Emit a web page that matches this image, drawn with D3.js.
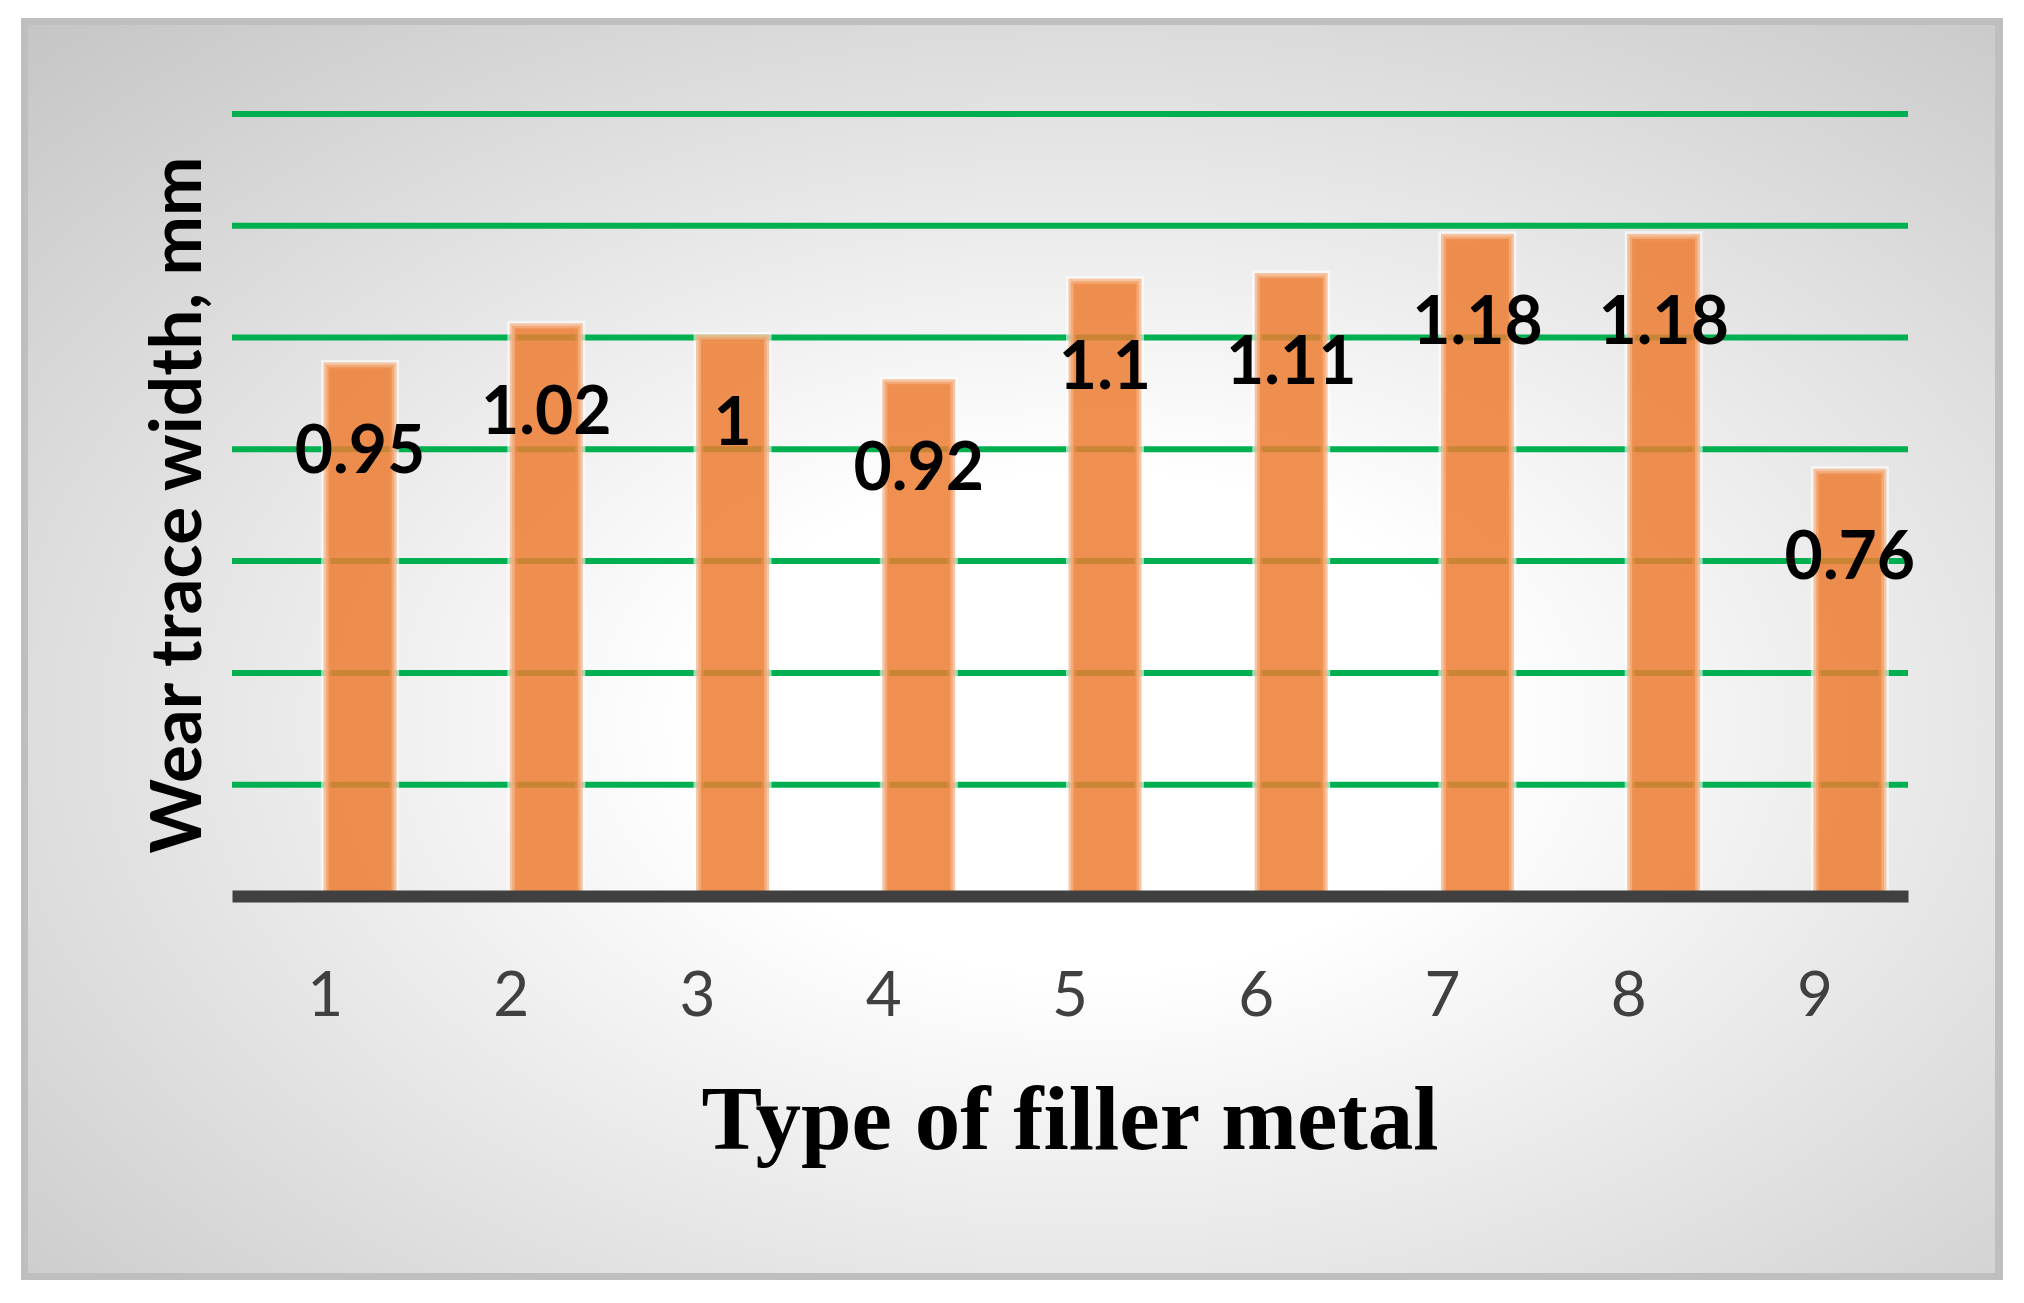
<!DOCTYPE html>
<html>
<head>
<meta charset="utf-8">
<script src="https://cdn.jsdelivr.net/npm/d3@7"></script>
<style>
  html, body { margin: 0; padding: 0; background: #ffffff; }
  svg { display: block; }
</style>
</head>
<body>
<script>
// ---- data ----
const categories = ["1", "2", "3", "4", "5", "6", "7", "8", "9"];
const wearValues = [0.95, 1.02, 1, 0.92, 1.1, 1.11, 1.18, 1.18, 0.76];
const gridTicks = [0.2, 0.4, 0.6, 0.8, 1.0, 1.2, 1.4];
const yTitle = "Wear trace width, mm";
const xTitle = "Type of filler metal";

// ---- layout ----
const W = 2024, H = 1303;
const plot = { left: 232, right: 1908, top: 113.4, bottom: 896 };

const svg = d3.select("body").append("svg").attr("width", W).attr("height", H);

const defs = svg.append("defs");
const grad = defs.append("radialGradient")
  .attr("id", "bg")
  .attr("cx", 0.54).attr("cy", 0.56).attr("r", 0.8);
grad.append("stop").attr("offset", "0").attr("stop-color", "#ffffff");
grad.append("stop").attr("offset", "0.25").attr("stop-color", "#ffffff");
grad.append("stop").attr("offset", "1").attr("stop-color", "#c3c3c3");

// frame
svg.append("rect").attr("x", 21).attr("y", 18).attr("width", 1982).attr("height", 1262).attr("fill", "#bfbfbf");
svg.append("rect").attr("x", 28).attr("y", 25).attr("width", 1967).attr("height", 1248).attr("fill", "url(#bg)");

// scales
const x = d3.scaleBand().domain(categories).range([plot.left, plot.right]).padding(0);
const y = d3.scaleLinear().domain([0, 1.4]).range([plot.bottom, plot.top]);
const barW = x.bandwidth() * 0.365;

// gridlines
const grid = svg.append("g")
  .attr("transform", `translate(${plot.left},0)`)
  .call(d3.axisLeft(y).tickValues(gridTicks).tickSize(-(plot.right - plot.left)).tickFormat(""));
grid.select(".domain").remove();
grid.selectAll(".tick line").attr("stroke", "#00B050").attr("stroke-width", 6);

// bars
const bars = svg.append("g");
const cx = d => x(d.c) + x.bandwidth() / 2 + 1;
const rows = categories.map((c, i) => ({ c, v: wearValues[i] }));
bars.selectAll("rect.glow").data(rows).enter().append("rect")
  .attr("class", "glow")
  .attr("x", d => cx(d)).attr("width", barW)
  .attr("y", d => y(d.v)).attr("height", d => y(0) - y(d.v))
  .attr("fill", "none").attr("stroke", "#ffffff").attr("stroke-opacity", 0.6).attr("stroke-width", 10);
bars.selectAll("rect.bar").data(rows).enter().append("rect")
  .attr("class", "bar")
  .attr("x", d => cx(d)).attr("width", barW)
  .attr("y", d => y(d.v)).attr("height", d => y(0) - y(d.v))
  .attr("fill", "#ED7D31").attr("fill-opacity", 0.85)
  .attr("stroke", "#F4B183").attr("stroke-opacity", 0.75).attr("stroke-width", 5);

// x axis line
const xAxis = svg.append("g")
  .attr("transform", `translate(0,${plot.bottom})`)
  .call(d3.axisBottom(x).tickSize(0).tickPadding(0));
xAxis.select(".domain").attr("stroke", "#404040").attr("stroke-width", 12);
xAxis.selectAll(".tick text")
  .attr("y", 120).attr("dy", null)
  .attr("font-family", "Lato, 'Noto Sans', sans-serif")
  .attr("font-size", 62).attr("fill", "#404040");

// data labels
svg.append("g").selectAll("text").data(rows).enter().append("text")
  .attr("x", d => cx(d) + barW / 2)
  .attr("y", d => y(d.v) + 108)
  .attr("text-anchor", "middle")
  .attr("font-family", "Lato, 'Noto Sans', sans-serif")
  .attr("font-weight", "bold").attr("font-size", 66).attr("fill", "#000")
  .text(d => String(d.v));

// axis titles
svg.append("text")
  .attr("transform", "translate(201,505) rotate(-90)")
  .attr("text-anchor", "middle")
  .attr("font-family", "Lato, 'Noto Sans', sans-serif")
  .attr("font-weight", "bold").attr("font-size", 71).attr("fill", "#000")
  .text(yTitle);

svg.append("text")
  .attr("x", 1070).attr("y", 1149)
  .attr("text-anchor", "middle")
  .attr("font-family", "'Liberation Serif', 'Times New Roman', serif")
  .attr("font-weight", "bold").attr("font-size", 91).attr("fill", "#000")
  .text(xTitle);
</script>
</body>
</html>
